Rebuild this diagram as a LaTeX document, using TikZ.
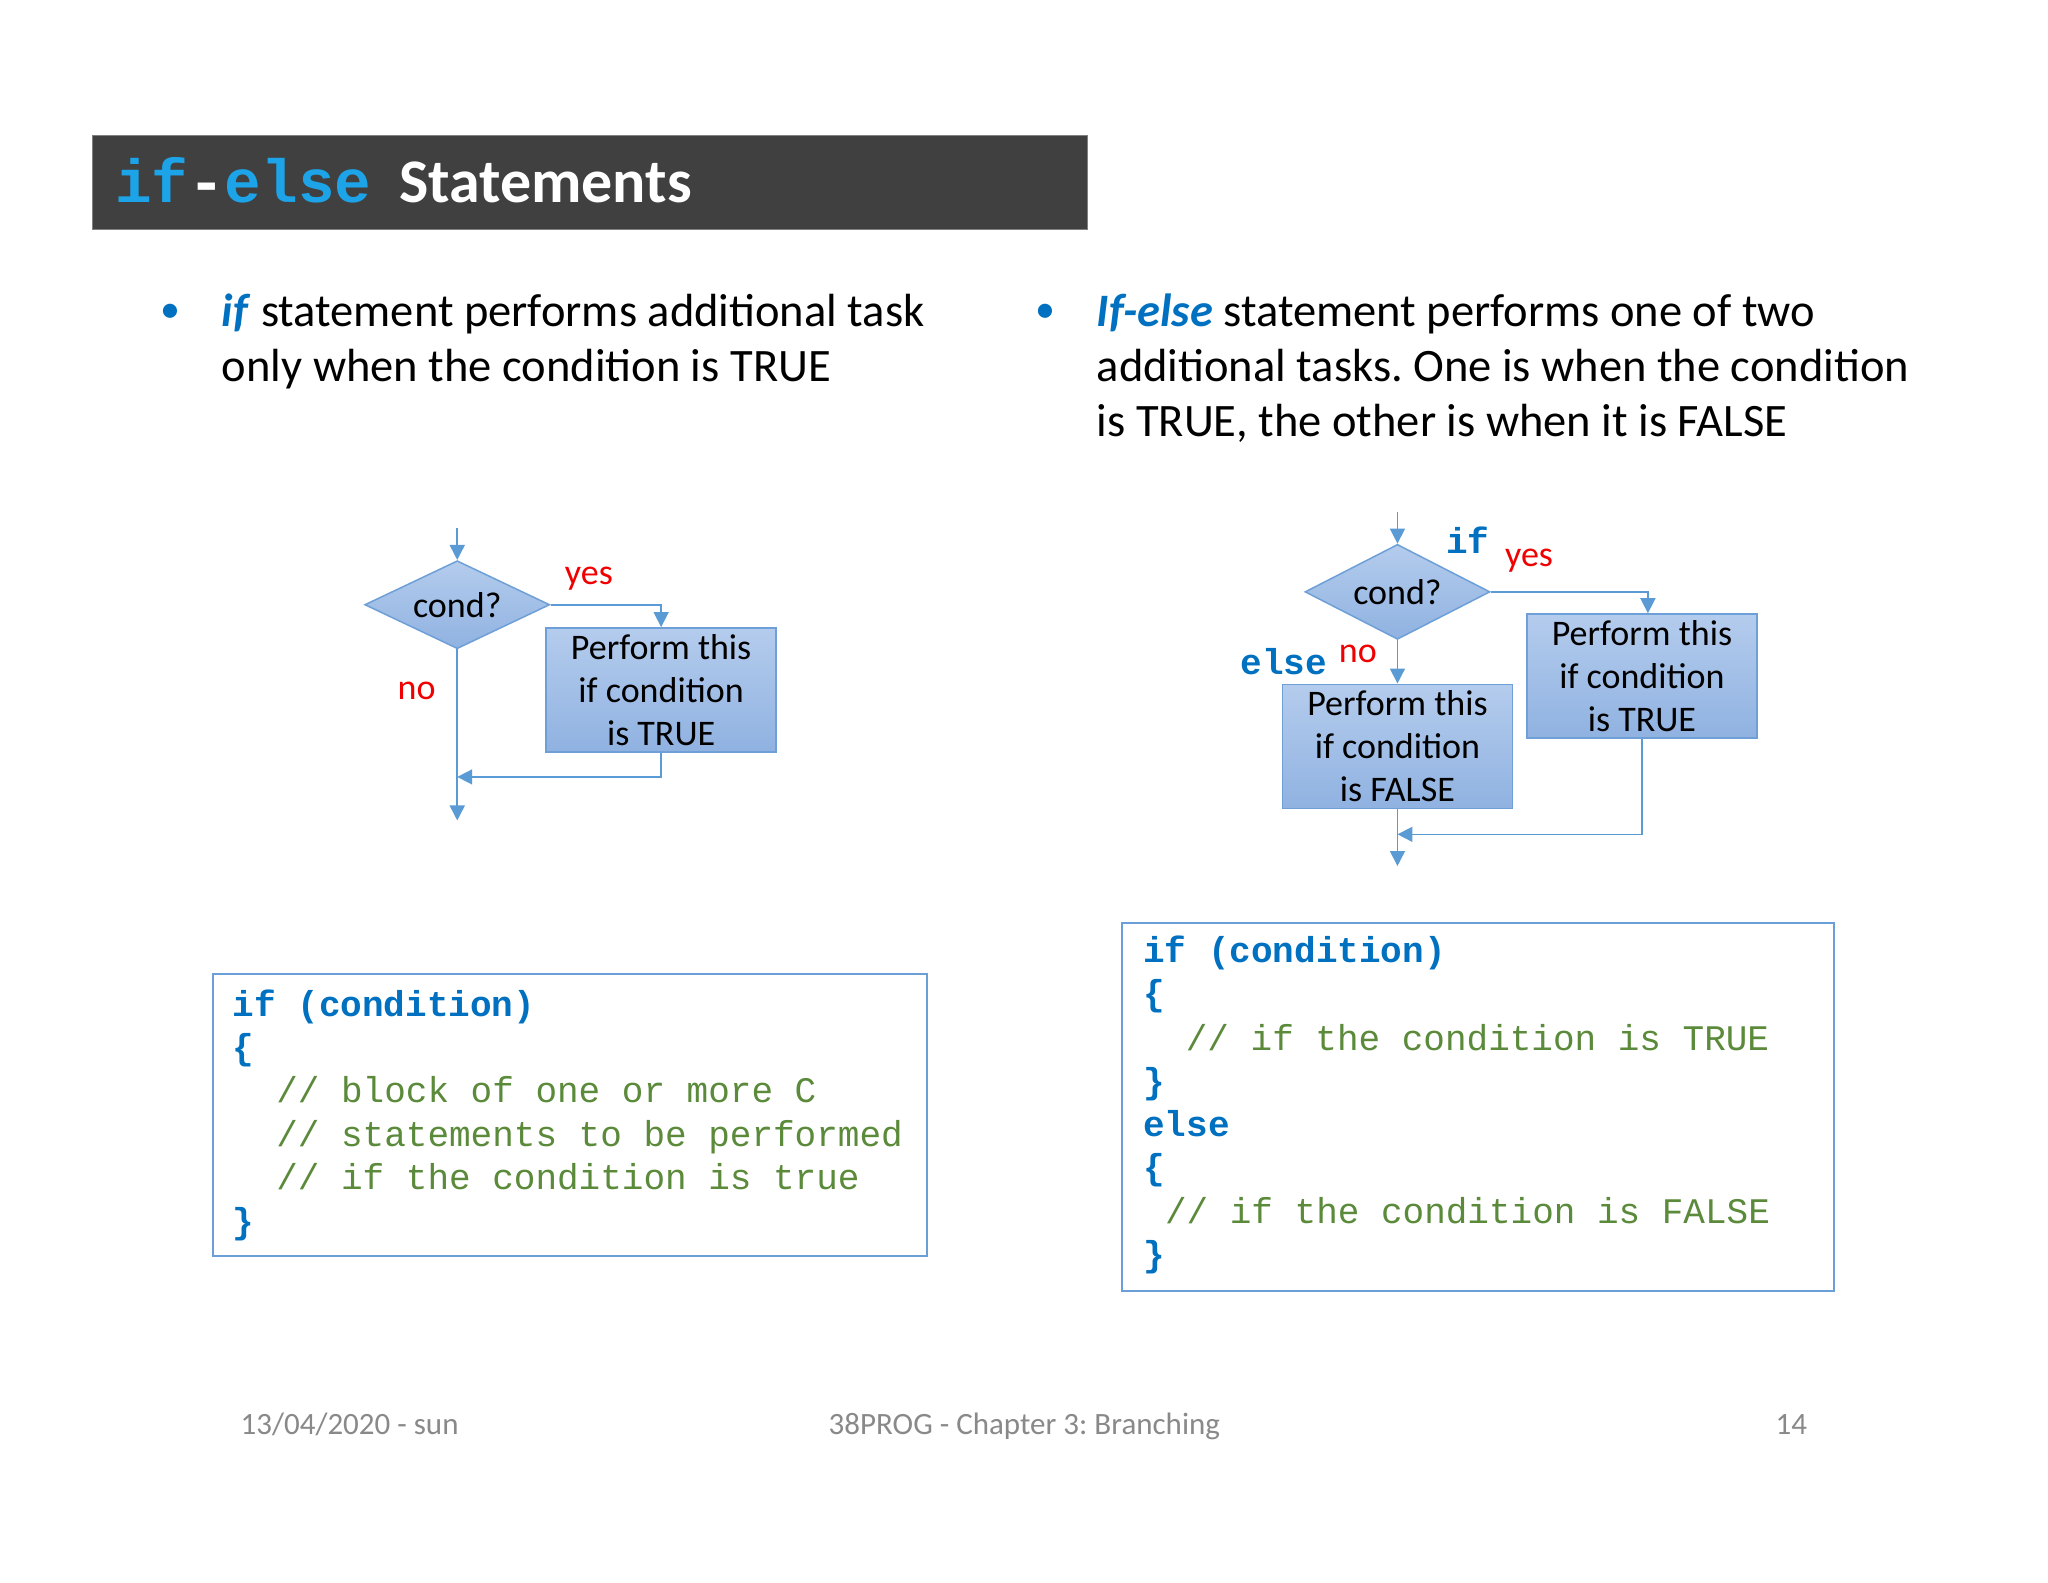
\documentclass[tikz,border=0pt]{standalone}
\usepackage{fontspec}
\setmainfont{Carlito}
\setmonofont{Liberation Mono}
\usetikzlibrary{arrows.meta,shapes.geometric}
\definecolor{titlebg}{HTML}{404040}
\definecolor{titleblue}{HTML}{1CA3E8}
\definecolor{kwblue}{HTML}{0070C0}
\definecolor{cmtgreen}{HTML}{5A8A3A}
\definecolor{flowline}{HTML}{5B9BD5}
\definecolor{boxtop}{HTML}{B4CCED}
\definecolor{boxbot}{HTML}{90B2E1}
\definecolor{boxborder}{HTML}{6E9FD6}
\definecolor{codeborder}{HTML}{6A9FD8}
\definecolor{footgray}{HTML}{898989}
\definecolor{labred}{HTML}{F00000}
\newcommand\myfs[2]{\fontsize{#1}{#2}\selectfont}
\frenchspacing
\begin{document}
\begin{tikzpicture}[x=0.9897pt,y=-0.9897pt,
  arr/.style={draw=flowline, line width=1.6pt, -{Triangle[width=15pt,length=15pt]}},
  flowbox/.style={draw=boxborder, line width=1.5pt, top color=boxtop, bottom color=boxbot,
     minimum width=230, minimum height=124, inner sep=0, align=center, font=\myfs{36}{43}},
  decision/.style={diamond, aspect=2.2, draw=boxborder, line width=1.5pt, top color=boxtop, bottom color=boxbot,
     minimum width=185, minimum height=88, inner sep=0, font=\myfs{36}{40}},
  lab/.style={inner sep=0, font=\myfs{36}{40}, text=labred},
  kwlab/.style={inner sep=0, font=\myfs{36}{44}\ttfamily\bfseries, text=kwblue},
  bul/.style={anchor=base west, inner sep=0, font=\myfs{46.5}{55}},
  dot/.style={anchor=base, inner sep=0, font=\myfs{40}{55}, text=kwblue},
  kw/.style={anchor=base west, inner sep=0, font=\myfs{36}{44}\ttfamily\bfseries, text=kwblue},
  cmt/.style={anchor=base west, inner sep=0, font=\myfs{36}{44}\ttfamily, text=cmtgreen},
  codebox/.style={draw=codeborder, line width=2pt, inner sep=0},
  foot/.style={anchor=base, inner sep=0, font=\myfs{31}{35}, text=footgray}]
\useasboundingbox[fill=white] (0,0) rectangle (2069.3,1598.5);

% title bar
\node[fill=titlebg, draw=gray, line width=0.8pt, minimum width=995, minimum height=94, inner sep=0] (bar) at (596.5,184.5) {};
\node[anchor=base west, inner sep=0, font=\myfs{61}{70}\ttfamily\bfseries, text=titleblue] (t1) at (116,205) {if\textcolor{white}{-}else};
\node[anchor=base west, inner sep=0, font=\myfs{62}{74}\bfseries, text=white] (t2) at (403,205) {Statements};

% bullets
\node[dot] (d1b) at (172,326) {•};
\node[bul] (b1l1) at (224,330) {\textcolor{kwblue}{\textbf{\textit{if}}} statement performs additional task};
\node[bul] (b1l2) at (224,385) {only when the condition is TRUE};
\node[dot] (d2b) at (1056,326) {•};
\node[bul] (b2l1) at (1108,330) {\textcolor{kwblue}{\textbf{\textit{If-else}}} statement performs one of two};
\node[bul] (b2l2) at (1108,385) {additional tasks. One is when the condition};
\node[bul] (b2l3) at (1108,441) {is TRUE, the other is when it is FALSE};

% left flowchart
\coordinate (in1) at (462,533);
\coordinate (out1) at (462,829);
\coordinate (j1) at (462,785);
\node[decision] (c1) at (462,611) {cond?};
\node[flowbox] (p1) at (668,697) {Perform this\\if condition\\is TRUE};
\draw[arr] (in1) -- (c1.north);
\draw[arr] (c1.east) -| (p1.north);
\draw[arr] (c1.south) -- (out1);
\draw[arr] (p1.south) |- (j1);
\node[lab] (yes1) at (595,585) {yes};
\node[lab] (no1) at (421,698) {no};

% right flowchart
\coordinate (in2) at (1412,517);
\coordinate (out2) at (1412,875);
\coordinate (j2) at (1412,843);
\node[decision, minimum height=95] (c2) at (1412,598) {cond?};
\node[flowbox] (pt) at (1659,683) {Perform this\\if condition\\is TRUE};
\node[flowbox] (pf) at (1412,754) {Perform this\\if condition\\is FALSE};
\draw[arr] (in2) -- (c2.north);
\draw[arr] (c2.east) -| ([xshift=6pt]pt.north);
\draw[arr] (c2.south) -- (pf.north);
\draw[arr] (pf.south) -- (out2);
\draw[arr] (pt.south) |- (j2);
\node[kwlab] (if2) at (1483,546) {if};
\node[lab] (yes2) at (1545,566) {yes};
\node[kwlab] (else2) at (1297,669) {else};
\node[lab] (no2) at (1372,661) {no};

% left code box
\node[codebox, minimum width=714, minimum height=282] (cb1) at (575.5,1126.5) {};
\node[kw] (l1) at (235,1027) {if (condition)};
\node[kw] (l2) at (235,1070) {\{};
\node[cmt] (l3) at (279,1114) {// block of one or more C};
\node[cmt] (l4) at (279,1158) {// statements to be performed};
\node[cmt] (l5) at (279,1202) {// if the condition is true};
\node[kw] (l6) at (235,1246) {\}};

% right code box
\node[codebox, minimum width=712, minimum height=368] (cb2) at (1493.5,1118) {};
\node[kw] (r1) at (1155,973) {if (condition)};
\node[kw] (r2) at (1155,1016) {\{};
\node[cmt] (r3) at (1198,1061) {// if the condition is TRUE};
\node[kw] (r4) at (1155,1105) {\}};
\node[kw] (r5) at (1155,1148) {else};
\node[kw] (r6) at (1155,1192) {\{};
\node[cmt] (r7) at (1177,1236) {// if the condition is FALSE};
\node[kw] (r8) at (1155,1280) {\}};

% footer
\node[foot, anchor=base west] (f1) at (243,1449) {13/04/2020 - sun};
\node[foot] (f2) at (1035,1449) {38PROG - Chapter 3: Branching};
\node[foot, anchor=base east] (f3) at (1826,1449) {14};
\end{tikzpicture}
\end{document}
